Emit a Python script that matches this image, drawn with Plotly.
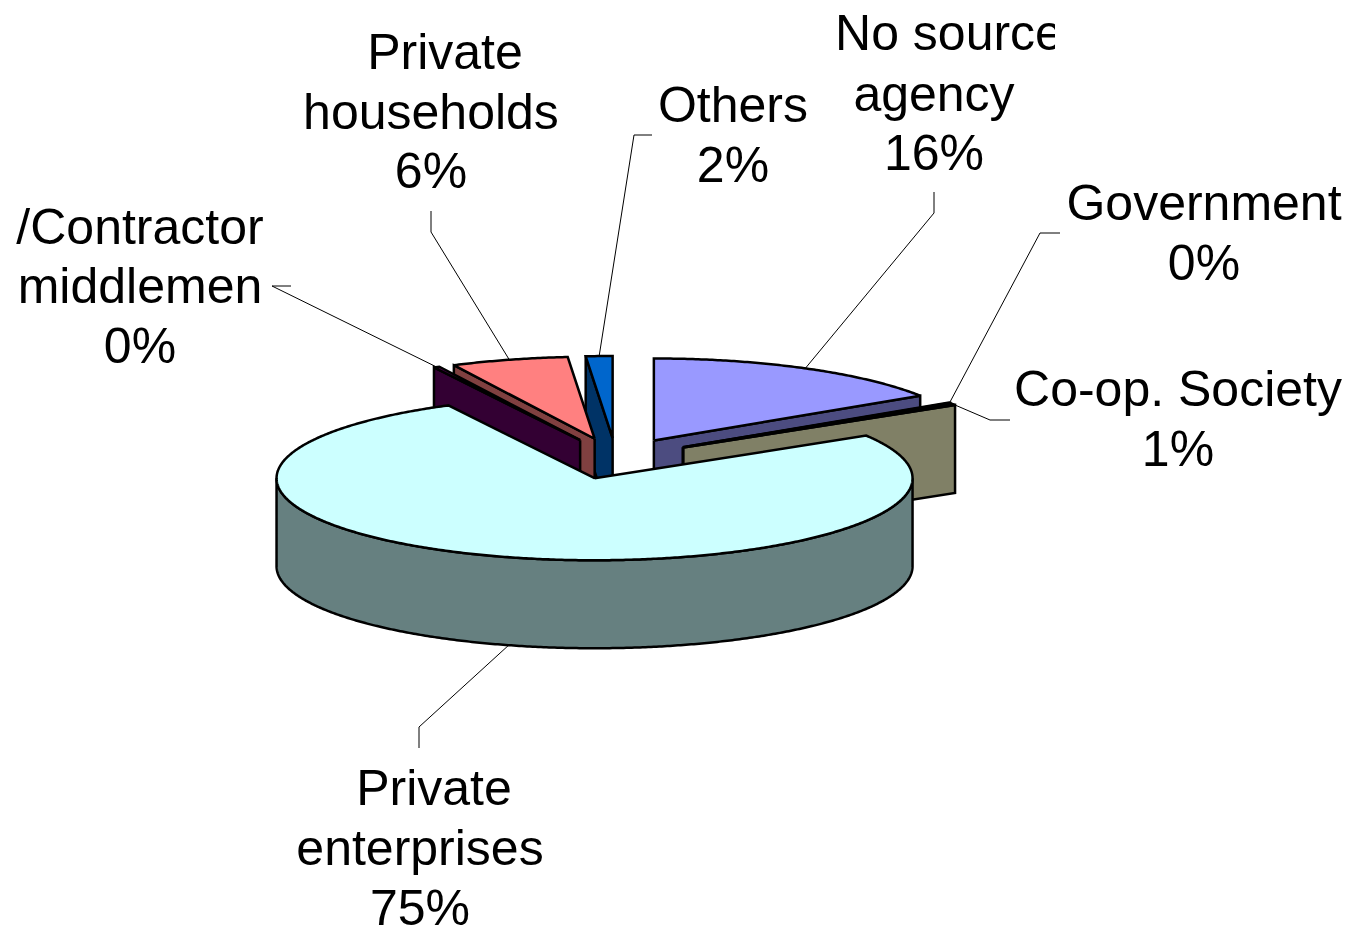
import numpy as np
import plotly.graph_objects as go

# ---- data ----
categories = ["No source agency", "Government", "Co-op. Society", "Private enterprises",
              "/Contractor middlemen", "Private households", "Others"]
values = [15.8, 0.1, 0.4, 76.1, 0.3, 5.95, 1.35]
shown_percent = ["16%", "0%", "1%", "75%", "0%", "6%", "2%"]
label_lines = [["No source", "agency"], ["Government"], ["Co-op. Society"], ["Private", "enterprises"],
               ["/Contractor", "middlemen"], ["Private", "households"], ["Others"]]

# ---- styles and layout ----
face_colors = ["#9999FF", "#993366", "#FFFFCC", "#CCFFFF", "#660066", "#FF8080", "#0066CC"]
wall_colors = ["#4C4C80", "#4C1933", "#808066", "#668080", "#330033", "#804040", "#003366"]
draw_order = [0, 1, 2, 6, 5, 4, 3]
CX, CY, RX, RY, DEPTH, EXPLODE = 616.0, 458.5, 318.0, 82.0, 88.0, 0.25
START_DEG = 90.0
FONT = dict(family="Liberation Sans, Arial, sans-serif", size=50, color="black")
LINE = dict(color="black", width=2.5, simplify=False)
label_pos = {0: [(949, 37), (934, 98), (934, 157)], 1: [(1204, 207), (1204, 267)], 2: [(1178, 393), (1178, 453)],
             3: [(434, 792), (420, 852), (420, 912)], 4: [(140, 231), (140, 290), (140, 350)],
             5: [(445, 56), (431, 116), (431, 175)], 6: [(733, 109), (733, 169)]}
elbows = {0: [(934, 192), (934, 213)], 1: [(1060, 233), (1040, 233)], 2: [(1010, 420), (990, 420)],
          3: [(419, 748), (419, 727)], 4: [(291, 286), (272, 286)], 5: [(431, 211), (431, 232)],
          6: [(652, 135), (634, 135)]}

fig = go.Figure()
total = sum(values)
edges = START_DEG - np.concatenate([[0], np.cumsum(values)]) * 360.0 / total
geo = []
for i in range(len(values)):
    a0, a1 = edges[i], edges[i + 1]      # a0 > a1, clockwise
    mid = np.radians((a0 + a1) / 2)
    ax = CX + EXPLODE * RX * np.cos(mid)
    ay = CY - EXPLODE * RY * np.sin(mid)
    geo.append((a0, a1, mid, ax, ay))


def arc(ax, ay, d0, d1, n=None):
    n = n or max(2, 2 * int(abs(d0 - d1)) + 2)
    t = np.radians(np.linspace(d0, d1, n))
    return ax + RX * np.cos(t), ay - RY * np.sin(t)


def poly(x, y, fill):
    fig.add_trace(go.Scatter(x=np.append(x, x[0]), y=np.append(y, y[0]), mode="lines", fill="toself",
                             fillcolor=fill, line=LINE, hoverinfo="skip", showlegend=False))


# leader lines
for i in range(len(values)):
    a0, a1, mid, ax, ay = geo[i]
    px = ax + RX * np.cos(mid)
    py = ay - RY * np.sin(mid) + (DEPTH if np.sin(mid) < 0 else 0)
    e = elbows[i]
    fig.add_trace(go.Scatter(x=[e[0][0], e[1][0], px], y=[e[0][1], e[1][1], py], mode="lines",
                             line=dict(color="black", width=1), hoverinfo="skip", showlegend=False))

# slices, back to front
for i in draw_order:
    a0, a1, mid, ax, ay = geo[i]
    # radial walls
    for d, side in ((a0, 90), (a1, -90)):
        if np.sin(np.radians(d + side)) < -1e-6:
            ex, ey = ax + RX * np.cos(np.radians(d)), ay - RY * np.sin(np.radians(d))
            poly(np.array([ax, ex, ex, ax]), np.array([ay, ey, ey + DEPTH, ay + DEPTH]), wall_colors[i])
    # outer wall: the part of the rim that faces the viewer
    lo, hi = max(a1, -180.0), min(a0, 0.0)
    if hi > lo:
        x, y = arc(ax, ay, hi, lo)
        poly(np.concatenate([x, x[::-1]]), np.concatenate([y, y[::-1] + DEPTH]), wall_colors[i])
    # top face
    x, y = arc(ax, ay, a0, a1)
    poly(np.concatenate([[ax], x]), np.concatenate([[ay], y]), face_colors[i])

# labels, one text item per line
for i in range(len(values)):
    lines = label_lines[i] + [shown_percent[i]]
    pos = label_pos[i]
    fig.add_trace(go.Scatter(x=[p[0] for p in pos], y=[p[1] for p in pos], text=lines, mode="text",
                             textposition="middle center", textfont=FONT, cliponaxis=False,
                             hoverinfo="skip", showlegend=False))

fig.update_layout(
    width=1349, height=928, margin=dict(l=0, r=0, t=0, b=0), autosize=False,
    paper_bgcolor="white", plot_bgcolor="white", showlegend=False,
    xaxis=dict(range=[0, 1349], visible=False, fixedrange=True),
    yaxis=dict(range=[928, 0], visible=False, fixedrange=True),
    # the reference's label box cuts off the end of "No source"
    shapes=[dict(type="rect", xref="x", yref="y", x0=1055, x1=1140, y0=0, y1=62, layer="above",
                 fillcolor="white", line=dict(width=0))],
)
fig.write_html("out.html", post_script="document.body.style.margin='0';document.body.style.overflow='hidden';",
               config=dict(displayModeBar=False))
